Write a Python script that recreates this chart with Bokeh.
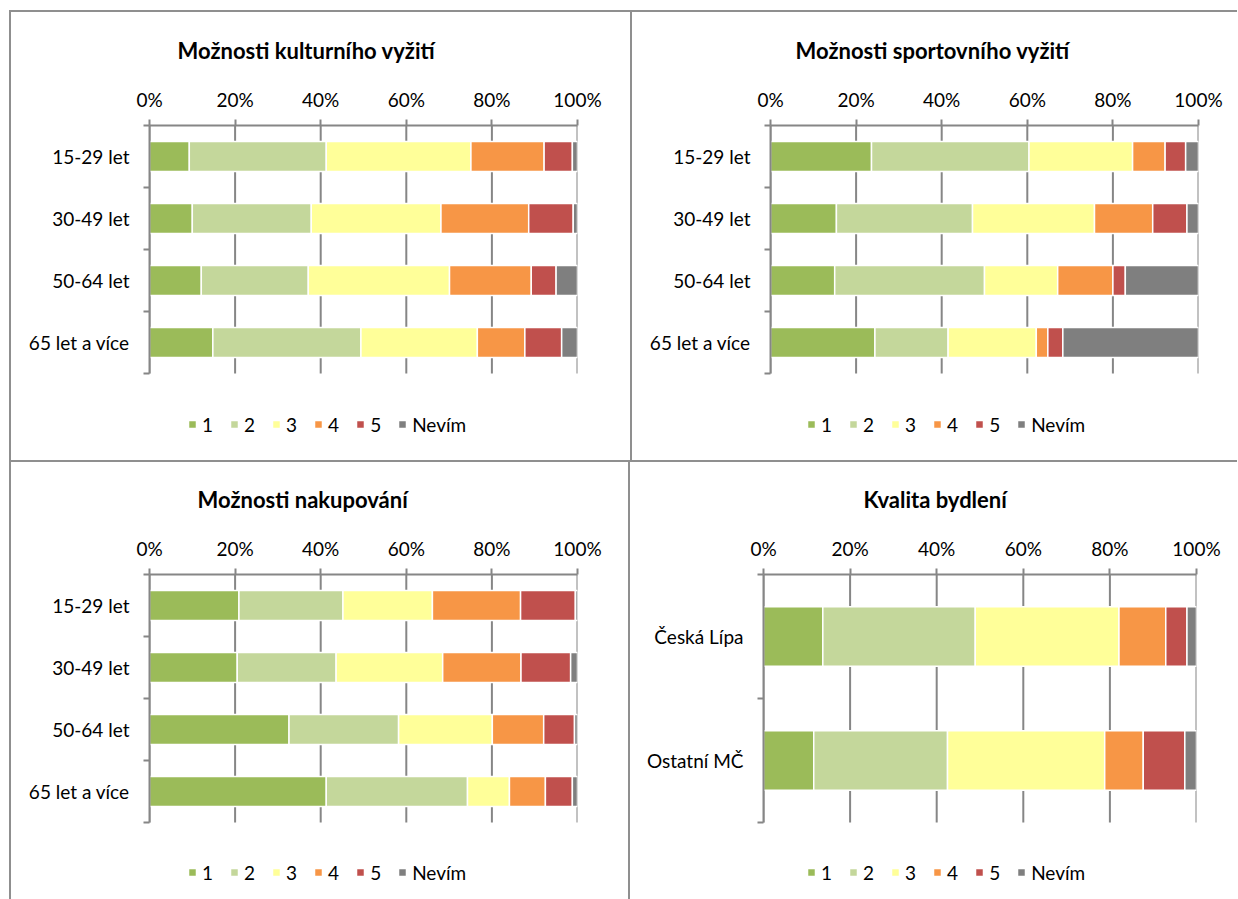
from bokeh.plotting import figure
from bokeh.models import (Range1d, FixedTicker, PrintfTickFormatter, Title, Div,
                          ColumnDataSource, Spacer)
from bokeh.layouts import row, column
from bokeh.embed import file_html
from bokeh.resources import INLINE

# ---------------- data ----------------
responses = ["1", "2", "3", "4", "5", "Nevím"]
colors = ["#9BBB59", "#C4D79B", "#FFFF99", "#F79646", "#C0504D", "#7F7F7F"]
x_ticks = [0, 20, 40, 60, 80, 100]

age_groups = ["15-29 let", "30-49 let", "50-64 let", "65 let a více"]
areas = ["Česká Lípa", "Ostatní MČ"]

# Možnosti kulturního vyžití (per age group, %)
kult_1 = [9.3, 10.0, 12.1, 14.8]
kult_2 = [32.0, 27.8, 25.0, 34.6]
kult_3 = [33.8, 30.3, 33.0, 27.2]
kult_4 = [17.1, 20.5, 19.1, 11.1]
kult_5 = [6.6, 10.4, 5.8, 8.6]
kult_n = [1.2, 1.0, 5.0, 3.7]

# Možnosti sportovního vyžití
sport_1 = [23.6, 15.4, 15.0, 24.4]
sport_2 = [36.8, 31.8, 35.0, 17.1]
sport_3 = [24.2, 28.5, 17.1, 20.6]
sport_4 = [7.6, 13.6, 12.9, 2.7]
sport_5 = [4.8, 8.0, 2.9, 3.5]
sport_n = [3.0, 2.7, 17.1, 31.7]

# Možnosti nakupování
nak_1 = [20.9, 20.5, 32.6, 41.3]
nak_2 = [24.3, 23.1, 25.6, 33.0]
nak_3 = [20.9, 24.9, 21.9, 9.8]
nak_4 = [20.6, 18.3, 12.0, 8.4]
nak_5 = [12.8, 11.6, 7.2, 6.3]
nak_n = [0.5, 1.6, 0.7, 1.2]

# Kvalita bydlení (per area)
byd_1 = [13.7, 11.6]
byd_2 = [35.2, 30.9]
byd_3 = [33.2, 36.3]
byd_4 = [10.8, 8.9]
byd_5 = [4.9, 9.6]
byd_n = [2.2, 2.7]

FONT = "Lato"
GRID = "#868686"
PANEL_LINE = "#8f8f8f"
DATA_H = 248      # pixel height of the category area
FB = 10           # bottom border
LEG_H = 24        # legend row height


def make_chart(title, cats, series, w, h, fl, fr, ft, title_off, leg_x, leg_gap):
    n = len(cats)
    frame_h = h - ft - FB
    k = n * (frame_h - DATA_H) / DATA_H      # extra room below the bars for the legend
    ypos = [n - i - 0.5 for i in range(n)]    # first category at the top
    p = figure(width=w, height=h, output_backend="svg", toolbar_location=None,
               x_range=Range1d(0, 100), y_range=Range1d(-k, n),
               x_axis_location="above",
               min_border_left=fl, min_border_right=fr,
               min_border_top=ft, min_border_bottom=FB)
    p.outline_line_color = None
    p.background_fill_color = "white"
    p.border_fill_color = "white"
    p.xgrid.visible = False
    p.ygrid.visible = False

    # vertical gridlines over the category area only
    p.segment(x0=x_ticks, y0=[0] * len(x_ticks), x1=x_ticks, y1=[n] * len(x_ticks),
              line_color=GRID, line_width=2, level="underlay")

    data = {"y": ypos}
    for r, s in zip(responses, series):
        data[r] = s
    src = ColumnDataSource(data)
    p.hbar_stack(responses, y="y", height=0.48, color=colors, source=src,
                 line_color="white", line_width=1.5, legend_label=responses)

    # x axis on top
    xa = p.xaxis[0]
    xa.ticker = FixedTicker(ticks=x_ticks)
    xa.formatter = PrintfTickFormatter(format="%d%%")
    xa.axis_line_color = GRID
    xa.axis_line_width = 2
    xa.major_tick_line_color = GRID
    xa.major_tick_line_width = 2
    xa.major_tick_out = 6
    xa.major_tick_in = 0
    xa.minor_tick_line_color = None
    xa.major_label_text_font = FONT
    xa.major_label_text_font_size = "19px"
    xa.major_label_text_color = "#000000"
    xa.major_label_standoff = 9

    # left axis: category labels at slot centres, tick marks at slot boundaries
    ya = p.yaxis[0]
    ya.bounds = (0, n)
    ya.ticker = FixedTicker(ticks=ypos, minor_ticks=list(range(n + 1)))
    ya.major_label_overrides = {yv: c for yv, c in zip(ypos, cats)}
    ya.axis_line_color = GRID
    ya.axis_line_width = 2
    ya.major_tick_line_color = None
    ya.major_tick_out = 0
    ya.major_tick_in = 0
    ya.minor_tick_line_color = GRID
    ya.minor_tick_line_width = 2
    ya.minor_tick_out = 6
    ya.minor_tick_in = 0
    ya.major_label_text_font = FONT
    ya.major_label_text_font_size = "19px"
    ya.major_label_text_color = "#000000"
    ya.major_label_standoff = 14

    # title (above the top axis)
    p.title = Title(text=title, align="left", offset=title_off,
                    vertical_align="bottom", standoff=42,
                    text_font=FONT, text_font_style="bold", text_font_size="22px",
                    text_color="#000000")

    # legend under the bars, inside the frame
    lg = p.legend[0]
    lg.location = (leg_x, frame_h - DATA_H - leg_gap - LEG_H)
    lg.orientation = "horizontal"
    lg.border_line_color = None
    lg.background_fill_alpha = 0
    lg.label_text_font = FONT
    lg.label_text_font_size = "19px"
    lg.label_text_color = "#000000"
    lg.glyph_width = 10
    lg.glyph_height = 10
    lg.label_standoff = 5
    lg.label_width = 8
    lg.spacing = 16
    lg.padding = 0
    lg.margin = 0
    lg.label_height = LEG_H
    return p


p1 = make_chart("Možnosti kulturního vyžití", age_groups,
                [kult_1, kult_2, kult_3, kult_4, kult_5, kult_n],
                619, 448, 138, 53, 113, 28, 38, 39)
p2 = make_chart("Možnosti sportovního vyžití", age_groups,
                [sport_1, sport_2, sport_3, sport_4, sport_5, sport_n],
                605, 448, 138, 39, 113, 25, 36, 39)
p3 = make_chart("Možnosti nakupování", age_groups,
                [nak_1, nak_2, nak_3, nak_4, nak_5, nak_n],
                617, 437, 138, 51, 112, 48, 38, 38)
p4 = make_chart("Kvalita bydlení", areas,
                [byd_1, byd_2, byd_3, byd_4, byd_5, byd_n],
                607, 437, 133, 41, 112, 100, 43, 38)


def vline(hh):
    return Div(text="", width=2, height=hh, margin=0,
               styles={"background-color": PANEL_LINE})


def hline(ww):
    return Div(text="", width=ww, height=2, margin=0,
               styles={"background-color": PANEL_LINE})


top = row(Spacer(width=9, height=448), vline(448), p1, vline(448), p2, spacing=0)
bottom = row(Spacer(width=9, height=437), vline(437), p3, vline(437), p4, spacing=0)
sep_top = row(Spacer(width=9, height=2), hline(1228), spacing=0)
sep_mid = row(Spacer(width=9, height=2), hline(1228), spacing=0)
layout = column(Spacer(width=1237, height=10), sep_top, top, sep_mid, bottom, spacing=0)

open("out.html", "w").write(file_html(layout, INLINE))
